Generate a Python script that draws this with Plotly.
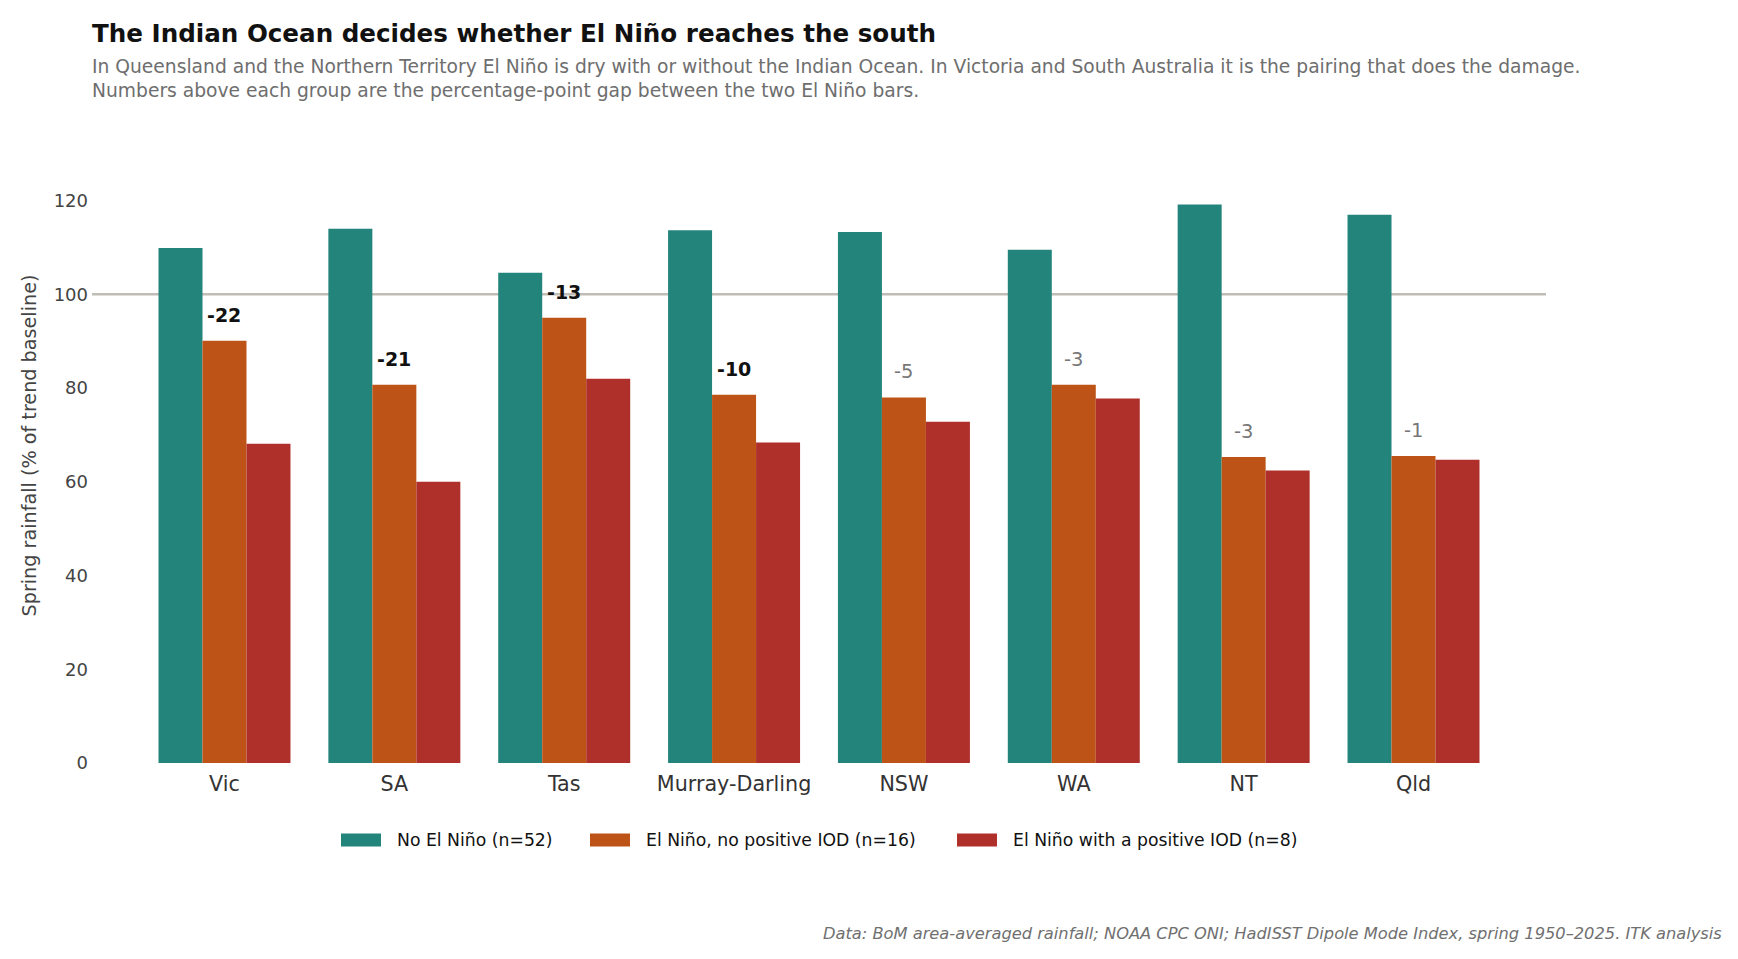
import plotly.graph_objects as go

regions = ["Vic", "SA", "Tas", "Murray-Darling", "NSW", "WA", "NT", "Qld"]
no_el_nino = [109.9, 114.0, 104.6, 113.7, 113.3, 109.5, 119.2, 117.0]
el_nino_no_iod = [90.1, 80.7, 95.0, 78.6, 78.0, 80.7, 65.3, 65.5]
el_nino_pos_iod = [68.1, 60.0, 82.0, 68.4, 72.8, 77.8, 62.4, 64.7]

series_names = ["No El Niño (n=52)", "El Niño, no positive IOD (n=16)", "El Niño with a positive IOD (n=8)"]
series_colors = ["#23847B", "#BD5317", "#AF2F2B"]

title = "The Indian Ocean decides whether El Niño reaches the south"
subtitle_lines = [
    "In Queensland and the Northern Territory El Niño is dry with or without the Indian Ocean. "
    "In Victoria and South Australia it is the pairing that does the damage.",
    "Numbers above each group are the percentage-point gap between the two El Niño bars.",
]
footer = "Data: BoM area-averaged rainfall; NOAA CPC ONI; HadISST Dipole Mode Index, spring 1950–2025. ITK analysis"
y_title = "Spring rainfall (% of trend baseline)"
y_ticks = [0, 20, 40, 60, 80, 100, 120]

FONT = "DejaVu Sans, Liberation Sans, Arial, sans-serif"

# figure geometry (px, figure coordinates)
W, H = 1738, 959
PL, PR, PT, PB = 84, 1538, 120, 755
PW, PH = PR - PL, PB - PT


def px(x):
    return (x - PL) / PW


def py(y):
    return (PB - y) / PH


fig = go.Figure()
for name, vals, col in zip(series_names, [no_el_nino, el_nino_no_iod, el_nino_pos_iod], series_colors):
    fig.add_trace(go.Bar(x=regions, y=vals, name=name, marker=dict(color=col, line=dict(width=0)),
                         showlegend=False))

# baseline at 100
fig.add_shape(type="line", xref="paper", x0=0, x1=1, yref="y", y0=100, y1=100,
              line=dict(color="#C0BDB6", width=2.5), layer="below")

# gap annotations above each group
for reg, a, b in zip(regions, el_nino_no_iod, el_nino_pos_iod):
    gap = round(b - a)
    strong = abs(gap) >= 10
    fig.add_annotation(x=reg, y=max(a, b) + 5.5, text=(f"<b>{gap}</b>" if strong else f"{gap}"),
                       showarrow=False, yanchor="middle", xanchor="center",
                       font=dict(family=FONT, size=19 if strong else 19.5,
                                 color="#111111" if strong else "#777777"))

# title + subtitle
fig.add_annotation(xref="paper", yref="paper", x=px(82), y=py(25), xanchor="left", yanchor="middle",
                   text=f"<b>{title}</b>", showarrow=False,
                   font=dict(family=FONT, size=24.6, color="#111111"))
for i, line in enumerate(subtitle_lines):
    fig.add_annotation(xref="paper", yref="paper", x=px(82), y=py(58.5 + 24.4 * i), xanchor="left",
                       yanchor="middle", text=line, showarrow=False, align="left",
                       font=dict(family=FONT, size=18.7, color="#6E6E6E"))

# footer
fig.add_annotation(xref="paper", yref="paper", x=px(1716), y=py(925), xanchor="right", yanchor="middle",
                   text=f"<i>{footer}</i>", showarrow=False,
                   font=dict(family=FONT, size=16.25, color="#707070"))

# legend (wide swatches)
leg_y = 832
leg_x = [333, 582, 949]
for name, col, lx in zip(series_names, series_colors, leg_x):
    fig.add_shape(type="rect", xref="paper", yref="paper", x0=px(lx), x1=px(lx + 40),
                  y0=py(leg_y + 6.5), y1=py(leg_y - 6.5), fillcolor=col, line=dict(width=0))
    fig.add_annotation(xref="paper", yref="paper", x=px(lx + 54), y=py(leg_y), xanchor="left",
                       yanchor="middle", text=name, showarrow=False,
                       font=dict(family=FONT, size=17.25, color="#111111"))

fig.update_layout(
    width=W, height=H,
    margin=dict(l=PL, r=W - PR, t=PT, b=H - PB, pad=0),
    paper_bgcolor="white", plot_bgcolor="white",
    barmode="group", bargap=0.223, bargroupgap=0,
    showlegend=False,
    font=dict(family=FONT, size=17, color="#444444"),
    xaxis=dict(range=[-0.78, 7.78], showgrid=False, zeroline=False, showline=False, ticks="",
               tickfont=dict(size=20.7, color="#333333"), ticklabelstandoff=6, fixedrange=True),
    yaxis=dict(range=[0, 135.5], showgrid=False, zeroline=False, showline=False, ticks="",
               tickvals=y_ticks, tickfont=dict(size=18, color="#444444"), ticklabelstandoff=3,
               title=dict(text=y_title, font=dict(size=19.2, color="#444444"), standoff=11),
               fixedrange=True),
)

fig.write_html("out.html")
